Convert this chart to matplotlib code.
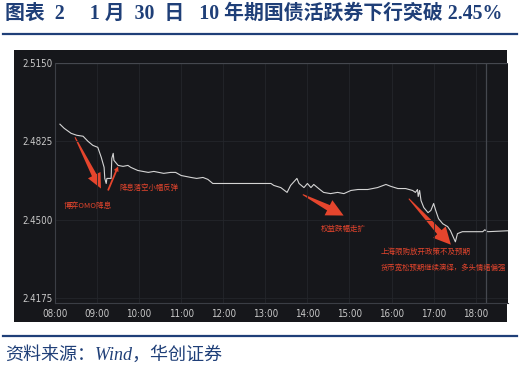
import numpy as np
import matplotlib.pyplot as plt
from matplotlib import font_manager as fm
from matplotlib.patches import Polygon, Rectangle
from matplotlib.lines import Line2D

# 10年期国债活跃券 1月30日 分时收益率
times = ["08:07", "08:13", "08:23", "08:31", "08:40", "08:47", "08:54", "09:01", "09:06", "09:10",
         "09:11", "09:13", "09:14", "09:20", "09:21", "09:23", "09:24", "09:30", "09:37", "09:44",
         "09:48", "09:58", "10:13", "10:21", "10:35", "10:45", "10:52", "11:00", "11:14", "11:22",
         "11:31", "11:38", "11:45", "13:08", "13:12", "13:22", "13:31", "13:36", "13:45", "13:48",
         "13:55", "14:00", "14:05", "14:09", "14:16", "14:23", "14:33", "14:43", "14:52", "15:02",
         "15:12", "15:26", "15:40", "15:52", "15:59", "16:09", "16:20", "16:30", "16:34", "16:37",
         "16:38", "16:40", "16:42", "16:46", "16:52", "16:56", "17:00", "17:03", "17:07", "17:13",
         "17:20", "17:24", "17:29", "17:31", "17:34", "17:41", "17:49", "18:10", "18:13", "18:17",
         "18:47"]
yields = [2.4896, 2.4879, 2.4858, 2.4850, 2.4846, 2.4825, 2.4808, 2.4800, 2.4758, 2.4717,
          2.4671, 2.4650, 2.4671, 2.4671, 2.4754, 2.4775, 2.4746, 2.4725, 2.4721, 2.4725,
          2.4717, 2.4704, 2.4696, 2.4700, 2.4692, 2.4696, 2.4696, 2.4683, 2.4675, 2.4671,
          2.4675, 2.4667, 2.4650, 2.4650, 2.4642, 2.4633, 2.4613, 2.4642, 2.4671, 2.4650,
          2.4633, 2.4650, 2.4633, 2.4646, 2.4629, 2.4613, 2.4608, 2.4613, 2.4608, 2.4621,
          2.4625, 2.4625, 2.4633, 2.4646, 2.4638, 2.4629, 2.4629, 2.4621, 2.4613, 2.4625,
          2.4596, 2.4621, 2.4579, 2.4550, 2.4529, 2.4538, 2.4567, 2.4538, 2.4504, 2.4483,
          2.4471, 2.4454, 2.4421, 2.4408, 2.4442, 2.4450, 2.4450, 2.4450, 2.4458, 2.4450,
          2.4454]
y_ticks = [2.4175, 2.4500, 2.4825, 2.5150]
x_tick_labels = ["08:00", "09:00", "10:00", "11:00", "12:00", "13:00",
                 "14:00", "15:00", "16:00", "17:00", "18:00"]

def to_hours(s):
    h, m = s.split(":")
    return int(h) + int(m) / 60

x = np.array([to_hours(t) for t in times])
x_ticks = [to_hours(t) for t in x_tick_labels]

navy = '#1f3f78'
red = '#e5452d'
bg = '#16171b'
cjk = ['Noto Sans CJK SC', 'DejaVu Sans']
serif_cjk = ['Liberation Serif', 'Noto Sans CJK SC']

# 坐标刻度用窄字体（有就用）
tick_font = dict(family='DejaVu Sans', fontsize=6.4)
names = {f.name for f in fm.fontManager.ttflist}
if 'Liberation Sans Narrow' in names:
    tick_font = dict(family='Liberation Sans Narrow', fontsize=7.8)
elif any(f.name == 'DejaVu Sans' and 'condensed' in str(f.stretch) for f in fm.fontManager.ttflist):
    tick_font = dict(family='DejaVu Sans', fontstretch='condensed', fontsize=7)

fig = plt.figure(figsize=(5.19, 3.66), dpi=100)
fig.patch.set_facecolor('white')

# 标题
fig.text(0.010, 0.962, "图表  2     1 月  30  日   10 年期国债活跃券下行突破 2.45%",
         family=serif_cjk, fontweight='bold',
         fontsize=14.3, color=navy, va='center', ha='left')
fig.add_artist(Line2D([0.006, 0.996], [0.907, 0.907], color=navy, lw=1.6))
fig.add_artist(Line2D([0.006, 0.996], [0.082, 0.082], color=navy, lw=1.6))
fig.text(0.010, 0.030, "资料来源：Wind，华创证券",
         family=serif_cjk, style='italic',
         fontsize=13, color=navy, va='center', ha='left')

# 深色背景面板
fig.add_artist(Rectangle((0.027, 0.120), 0.950, 0.743, transform=fig.transFigure,
                         facecolor=bg, edgecolor='none', zorder=-5))

ax = fig.add_axes([0.106, 0.172, 0.873, 0.656])
ax.set_facecolor(bg)
ax.set_xlim(8.0, 18.77)
ax.set_ylim(2.4154, 2.5150)

ax.plot(x, yields, color='#d4d4d4', lw=0.8)

ax.set_yticks(y_ticks)
ax.set_yticklabels([f"{v:.4f}" for v in y_ticks])
ax.set_xticks(x_ticks)
ax.set_xticklabels(x_tick_labels)
for lab in ax.get_xticklabels() + ax.get_yticklabels():
    lab.set(color='#c9c9c9', **tick_font)
ax.tick_params(axis='y', length=0, pad=1.5)
ax.tick_params(axis='x', length=0, pad=4)

ax.grid(True, color='#24262b', lw=0.6)
for s in ['top', 'right']:
    ax.spines[s].set_visible(False)
for s in ['left', 'bottom']:
    ax.spines[s].set_color('#3b3e45')
    ax.spines[s].set_linewidth(0.8)
# 十字光标线
ax.axhline(2.5150, color='#45484f', lw=0.9)
ax.axvline(to_hours("18:14"), color='#45484f', lw=0.9)


def fat_arrow(p0, p1, head_len, head_w, w0, w1):
    P0 = ax.transData.transform(p0)
    P1 = ax.transData.transform(p1)
    d = P1 - P0
    u = d / np.hypot(*d)
    n = np.array([-u[1], u[0]])
    B = P1 - u * head_len
    pts = [P0 + n * w0 / 2, B + n * w1 / 2, B + n * head_w / 2, P1,
           B - n * head_w / 2, B - n * w1 / 2, P0 - n * w0 / 2]
    pts = ax.transData.inverted().transform(np.array(pts))
    ax.add_patch(Polygon(pts, closed=True, facecolor=red, edgecolor='none', clip_on=False))


fat_arrow((8.475, 2.4842), (9.093, 2.4629), 15, 14, 1.0, 5.0)
fat_arrow((9.26, 2.4621), (9.50, 2.4721), 5, 5, 1.8, 1.8)
fat_arrow((13.89, 2.4604), (14.86, 2.4517), 17, 17, 1.0, 6.0)
fat_arrow((16.41, 2.4587), (17.41, 2.4396), 17, 17, 1.0, 6.0)

ax.text(8.21, 2.4558, "博弈OMO降息", family=cjk, fontsize=5.5, color=red, va='center')
ax.text(9.52, 2.4633, "降息落空小幅反弹", family=cjk, fontsize=5.3, color=red, va='center')
ax.text(14.32, 2.4463, "权益跌幅走扩", family=cjk, fontsize=5.4, color=red, va='center')
ax.text(15.74, 2.4367, "上海限购放开政策不及预期", family=cjk, fontsize=5.4, color=red, va='center')
ax.text(15.74, 2.4300, "货币宽松预期继续演绎，多头情绪偏强", family=cjk, fontsize=5.3, color=red, va='center')

fig.savefig("out.png", dpi=100)
